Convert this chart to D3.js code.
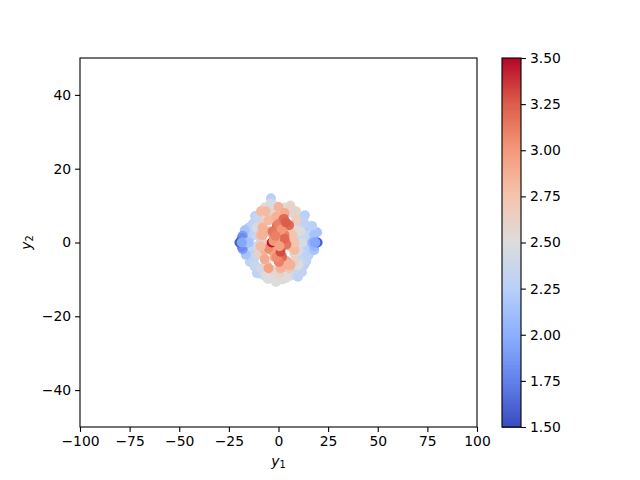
<!DOCTYPE html>
<html>
<head>
<meta charset="utf-8">
<script src="https://cdn.jsdelivr.net/npm/d3@7"></script>
<style>
body { margin: 0; background: #fff; }
text { font-family: "DejaVu Sans", sans-serif; fill: #000; }
.tick text { font-size: 13.9px; }
.axis path, .axis line { stroke: #000; stroke-width: 1.1px; }
</style>
</head>
<body>
<div id="chart"></div>
<script>
// values, in draw order
const y1Values = [
  -16, -15, -13, -14, -13, -14, -12, -12, -10, -9, -7, -3, 0, 2, 6, 8, 11, 13, 14, 15, 16, 14, 13, 15, 13, 16, 10, 7, 3, -2, -4, -6, -9, -10, -7, -11, -9, -11, 11, 9, 12, 10,
  -3.8, -11.8, 13.3, -10.8, 9.8, 11.8, -1.3, -5.3, 3.8, -16.4, -14.4, 19.4, 16.9, 12.8, -14, -12, -10, -15, 15, 14, 9, 6, 0, -7, -12, -9, 11, 16, -16, 7, -4,
  -17, -16.5, -18, -18, -18.5, -18.5, -19.7, -17, -15, 18, 18, 18, 19.7, 18.5, 18, 17,
  -8.8, 5.8, 8.8, -2, -6, 3, -11, -8, 9, 11, 12, 8, 10, -10, -6, -3, 1, 5, 8, 10, -8, -4, 3, 6, 0,
  -6.5, 0, -3, 3, 7, -9, -5, 2, 6, -7, -2, 4, 8, -5, 1, 5, -3, 3, -7, -1.5, 4, -4, 1, 6, -8, -5, -1, 3, 8,
  2.3, 5.3, -0.8, -2.3, 1.8, 0.2, 3, -1, 2, -3, 4, 0, -1, -5, 3, 1, -3.4, 2.8, -2.5, -3, 1.5, 0.5,
  -18.5, 18.3, -8, -9, 3.8, -1.5
];
const y2Values = [
  2.5, 4, 5, 1.5, -1.5, -3, -4, -6.5, -7.5, -8.5, -9, -9.5, -9, -10, -9, -8, -6.5, -6, -5, -3.5, -2.5, -1, 1, 3, 3.5, 3, 7, 8, 9.5, 10, 9, 9, 7, 5, 9.5, 2, 0, -1, 1, 4, -3, -4,
  12, 7.2, 7.4, -8.3, -9.3, -8, -10.7, -9.9, -9.6, -3.1, -5.3, 2.8, 4.5, 5.5, 3.5, 5.5, 6.5, -1, 2, -4, -7, 10, -9, -8, -6, -7, -5, -2, 1, 4, 10.5,
  3.3, -3.3, 1.8, -1.8, 1.2, -1.2, 0, 0, 0, -2, 2, -1, 0, 0, 0, 0,
  8.5, 9.3, 8.5, 8, 7, 8, 4, 5, 6, 3, 0, -3, -6, -3, -6, -7.5, -8, -7, -5, -2, 0, 3, 5, 3, -5,
  8.5, 9.6, 6.5, 4, 2, 2, 3, -1, -1, -2, -4, -5, -2, -7, -7, -6, -2, 2, -4.5, 0, 0, -2, -3, -6, 4, 6, 7, 8, 0,
  6.1, 4.7, 4.5, 1.2, -3.9, -5.3, 2, -4, -1, 0, -0.5, 5, 2.5, -1.5, 1, -2.5, 0, 6.4, 0.4, 3, 3.5, -1,
  0, 0, 2, -1, 5.4, 1.8
];
const colorValues = [
  2.2, 2.2, 2.3, 2.25, 2.25, 2.25, 2.35, 2.3, 2.35, 2.4, 2.45, 2.5, 2.5, 2.5, 2.45, 2.4, 2.35, 2.3, 2.3, 2.25, 2.25, 2.25, 2.3, 2.25, 2.3, 2.2, 2.4, 2.45, 2.5, 2.5, 2.5, 2.45, 2.45, 2.4, 2.5, 2.35, 2.4, 2.4, 2.35, 2.45, 2.35, 2.4,
  2.25, 2.3, 2.25, 2.3, 2.3, 2.3, 2.5, 2.5, 2.5, 2.3, 2.3, 2.15, 2.25, 2.3, 2.3, 2.3, 2.35, 2.35, 2.35, 2.3, 2.35, 2.55, 2.55, 2.5, 2.35, 2.4, 2.35, 2.25, 2.25, 2.5, 2.45,
  2.15, 2.15, 1.9, 1.9, 1.8, 1.8, 1.6, 2, 2.15, 2.15, 2.15, 2.05, 1.6, 1.95, 2, 2.05,
  2.8, 2.6, 2.6, 2.55, 2.55, 2.7, 2.45, 2.65, 2.65, 2.5, 2.45, 2.55, 2.5, 2.6, 2.6, 2.55, 2.6, 2.75, 2.6, 2.45, 2.65, 2.55, 2.7, 2.65, 2.7,
  2.8, 2.85, 2.7, 2.85, 2.75, 2.8, 2.85, 2.85, 2.8, 2.85, 2.9, 2.9, 2.8, 2.95, 2.85, 2.85, 2.9, 2.85, 2.9, 2.9, 2.9, 2.95, 2.9, 2.85, 2.85, 2.8, 2.85, 2.9, 2.75,
  3.2, 3.2, 3.2, 3, 3.2, 3.1, 3.1, 3.05, 3.1, 3.1, 3.15, 3.1, 3, 3.05, 3.2, 3.3, 3.45, 3.2, 3, 3.15, 3, 2.95,
  1.95, 1.95, 2.85, 2.8, 3.25, 3.1
];

const xTicks = [-100, -75, -50, -25, 0, 25, 50, 75, 100];
const yTicks = [-40, -20, 0, 20, 40];
const colorTicks = [1.5, 1.75, 2, 2.25, 2.5, 2.75, 3, 3.25, 3.5];

// coolwarm
const coolwarm = ["#3b4cc0", "#6282ea", "#8db0fe", "#b9d0f9", "#dddcdc", "#f5c4ac", "#f4987a", "#dc5d4a", "#b40426"];

const svg = d3.select("#chart")
  .append("svg")
  .attr("width", 640)
  .attr("height", 480);

const x = d3.scaleLinear().domain([-100, 100]).range([80, 477]);
const y = d3.scaleLinear().domain([-50, 50]).range([427, 58]);
const cScale = d3.scaleLinear().domain([1.5, 3.5]).range([427, 58]);
const color = d3.scaleLinear()
  .domain(coolwarm.map((d, i) => 1.5 + i * 0.25))
  .range(coolwarm);

// Points
svg.append("g")
  .selectAll("circle")
  .data(y1Values)
  .enter()
  .append("circle")
  .attr("cx", d => x(d))
  .attr("cy", (d, i) => y(y2Values[i]))
  .attr("r", 5)
  .attr("fill", (d, i) => color(colorValues[i]));

// Axes
svg.append("g")
  .attr("class", "axis")
  .attr("transform", "translate(0,427)")
  .call(d3.axisBottom(x).tickValues(xTicks).tickSize(4.9).tickPadding(4).tickFormat(d3.format("d")));

svg.append("g")
  .attr("class", "axis")
  .attr("transform", "translate(80,0)")
  .call(d3.axisLeft(y).tickValues(yTicks).tickSize(4.9).tickPadding(4).tickFormat(d3.format("d")));

svg.selectAll(".axis .domain").remove();

svg.append("rect")
  .attr("x", x(-100))
  .attr("y", y(50))
  .attr("width", x(100) - x(-100))
  .attr("height", y(-50) - y(50))
  .attr("fill", "none")
  .attr("stroke", "#000")
  .attr("stroke-width", 1.1);

// Colorbar, top row down so each step covers the seam of the one above
const cbarSteps = d3.range(256).map(i => 1.5 + i * 2 / 256).reverse();
svg.append("g")
  .attr("shape-rendering", "crispEdges")
  .selectAll("rect")
  .data(cbarSteps)
  .enter()
  .append("rect")
  .attr("x", 502)
  .attr("y", d => cScale(d + 2 / 256))
  .attr("width", 19)
  .attr("height", d => cScale(d) - cScale(d + 2 / 256) + 1)
  .attr("fill", d => color(d));

svg.append("g")
  .attr("class", "axis")
  .attr("transform", "translate(521,0)")
  .call(d3.axisRight(cScale).tickValues(colorTicks).tickSize(4.9).tickPadding(4).tickFormat(d3.format(".2f")));

svg.selectAll(".axis .domain").remove();

svg.append("rect")
  .attr("x", 502)
  .attr("y", 58)
  .attr("width", 19)
  .attr("height", 369)
  .attr("fill", "none")
  .attr("stroke", "#000")
  .attr("stroke-width", 1.1);

// Axis labels
const xLabel = svg.append("text")
  .attr("x", 278.5)
  .attr("y", 466)
  .attr("text-anchor", "middle")
  .style("font-size", "13.9px");
xLabel.append("tspan").style("font-style", "italic").text("y");
xLabel.append("tspan").attr("dy", 2).style("font-size", "9.7px").text("1");

const yLabel = svg.append("text")
  .attr("transform", "translate(31,242.5) rotate(-90)")
  .attr("text-anchor", "middle")
  .style("font-size", "13.9px");
yLabel.append("tspan").style("font-style", "italic").text("y");
yLabel.append("tspan").attr("dy", 2).style("font-size", "9.7px").text("2");
</script>
</body>
</html>
